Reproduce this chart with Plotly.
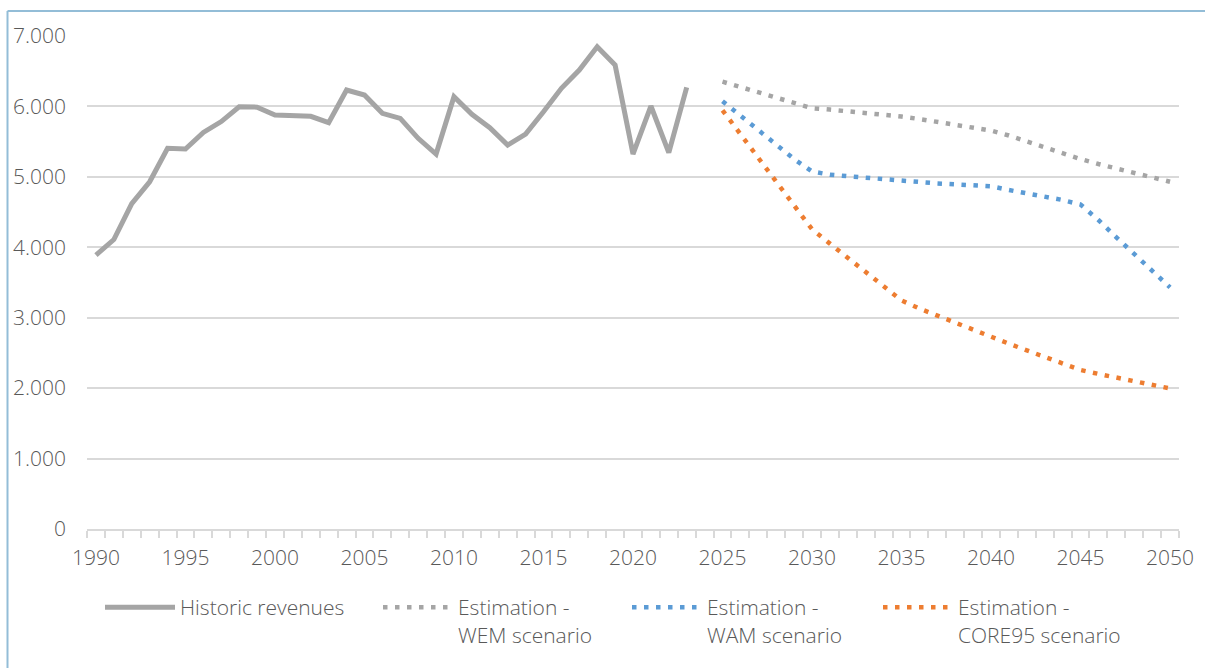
import plotly.graph_objects as go

# Historic revenues 1990-2023
hist_years = list(range(1990, 2024))
hist_values = [3890, 4110, 4620, 4930, 5405, 5395, 5630, 5785, 5995, 5990,
               5878, 5864, 5860, 5770, 6233, 6162, 5902, 5830, 5547, 5324,
               6138, 5888, 5698, 5452, 5608, 5925, 6257, 6517, 6848, 6588,
               5324, 6006, 5343, 6271]

# Scenario estimations 2025-2050
proj_years = list(range(2025, 2051))
wem_values = [6351, 6275, 6200, 6122, 6045, 5975, 5955, 5934, 5902, 5881,
              5857, 5821, 5783, 5746, 5701, 5657, 5587, 5502, 5421, 5333,
              5253, 5182, 5117, 5050, 4979, 4930]
wam_values = [6075, 5868, 5671, 5458, 5253, 5076, 5030, 5009, 4989, 4958,
              4937, 4921, 4907, 4894, 4880, 4867, 4813, 4771, 4720, 4671,
              4607, 4387, 4142, 3898, 3653, 3430]
core95_values = [5945, 5610, 5268, 4927, 4586, 4256, 4052, 3848, 3645, 3441,
                 3245, 3130, 3028, 2922, 2821, 2730, 2631, 2536, 2446, 2350,
                 2258, 2202, 2150, 2096, 2042, 1995]

y_ticks = [0, 1000, 2000, 3000, 4000, 5000, 6000, 7000]
y_tick_labels = ["0", "1.000", "2.000", "3.000", "4.000", "5.000", "6.000", "7.000"]
x_ticks = list(range(1990, 2051, 5))

TEXT = "#595959"
GRID = "#d9d9d9"
GRAY = "#a5a5a5"
BLUE = "#5b9bd5"
ORANGE = "#ed7d31"
FONT = "Open Sans"
FSIZE = 21
DOT = "4.5px,7.5px"

fig = go.Figure()

fig.add_trace(go.Scatter(
    x=hist_years, y=hist_values, mode="lines", name="Historic revenues",
    line=dict(color=GRAY, width=5), legend="legend"))
fig.add_trace(go.Scatter(
    x=proj_years, y=wem_values, mode="lines", name="Estimation -<br>WEM scenario",
    line=dict(color=GRAY, width=4.5, dash=DOT), legend="legend2"))
fig.add_trace(go.Scatter(
    x=proj_years, y=wam_values, mode="lines", name="Estimation -<br>WAM scenario",
    line=dict(color=BLUE, width=4.5, dash=DOT), legend="legend3"))
fig.add_trace(go.Scatter(
    x=proj_years, y=core95_values, mode="lines", name="Estimation -<br>CORE95 scenario",
    line=dict(color=ORANGE, width=4.5, dash=DOT), legend="legend4"))

W, H = 1205, 668


def legend_at(px_x, px_y):
    return dict(
        xref="container", yref="container",
        x=px_x / W, y=1 - px_y / H, xanchor="left", yanchor="top",
        orientation="h", valign="top", itemwidth=70,
        bgcolor="rgba(0,0,0,0)", borderwidth=0,
        font=dict(family=FONT, size=FSIZE, color=TEXT, weight=300),
        tracegroupgap=0, itemclick=False, itemdoubleclick=False,
    )


fig.update_layout(
    width=W, height=H,
    margin=dict(l=87, r=26, t=36, b=139),
    paper_bgcolor="white", plot_bgcolor="white",
    font=dict(family=FONT, size=FSIZE, color=TEXT, weight=300),
    showlegend=True,
    legend=legend_at(100, 587),
    legend2=legend_at(378, 587),
    legend3=legend_at(627, 587),
    legend4=legend_at(878, 587),
    xaxis=dict(
        range=[1989.5, 2050.5],
        tickmode="array", tickvals=x_ticks, ticktext=[str(v) for v in x_ticks],
        ticks="outside", ticklen=0, tickcolor=GRID, ticklabelstandoff=9,
        minor=dict(tick0=1989.5, dtick=1, ticks="outside", ticklen=7,
                   tickcolor=GRID, tickwidth=1.5, showgrid=False),
        showgrid=False, zeroline=False,
        showline=True, linecolor=GRID, linewidth=1.5,
        tickfont=dict(family=FONT, size=FSIZE, color=TEXT, weight=300),
    ),
    yaxis=dict(
        range=[0, 7000],
        tickmode="array", tickvals=y_ticks, ticktext=y_tick_labels,
        showgrid=True, gridcolor=GRID, gridwidth=1.5,
        zeroline=False, showline=False, ticks="", ticklabelstandoff=20,
        tickfont=dict(family=FONT, size=FSIZE, color=TEXT, weight=300),
    ),
)

# Frame around the chart (left and top edges)
FRAME = "#93bdd7"
fig.add_shape(type="line", xref="paper", yref="paper",
              x0=(7.5 - 87) / 1092, x1=1.05, y0=1 + (36 - 11) / 493, y1=1 + (36 - 11) / 493,
              line=dict(color=FRAME, width=2))
fig.add_shape(type="line", xref="paper", yref="paper",
              x0=(7.5 - 87) / 1092, x1=(7.5 - 87) / 1092, y0=1 + (36 - 11) / 493, y1=-0.3,
              line=dict(color=FRAME, width=2))

fig.write_html("out.html")
